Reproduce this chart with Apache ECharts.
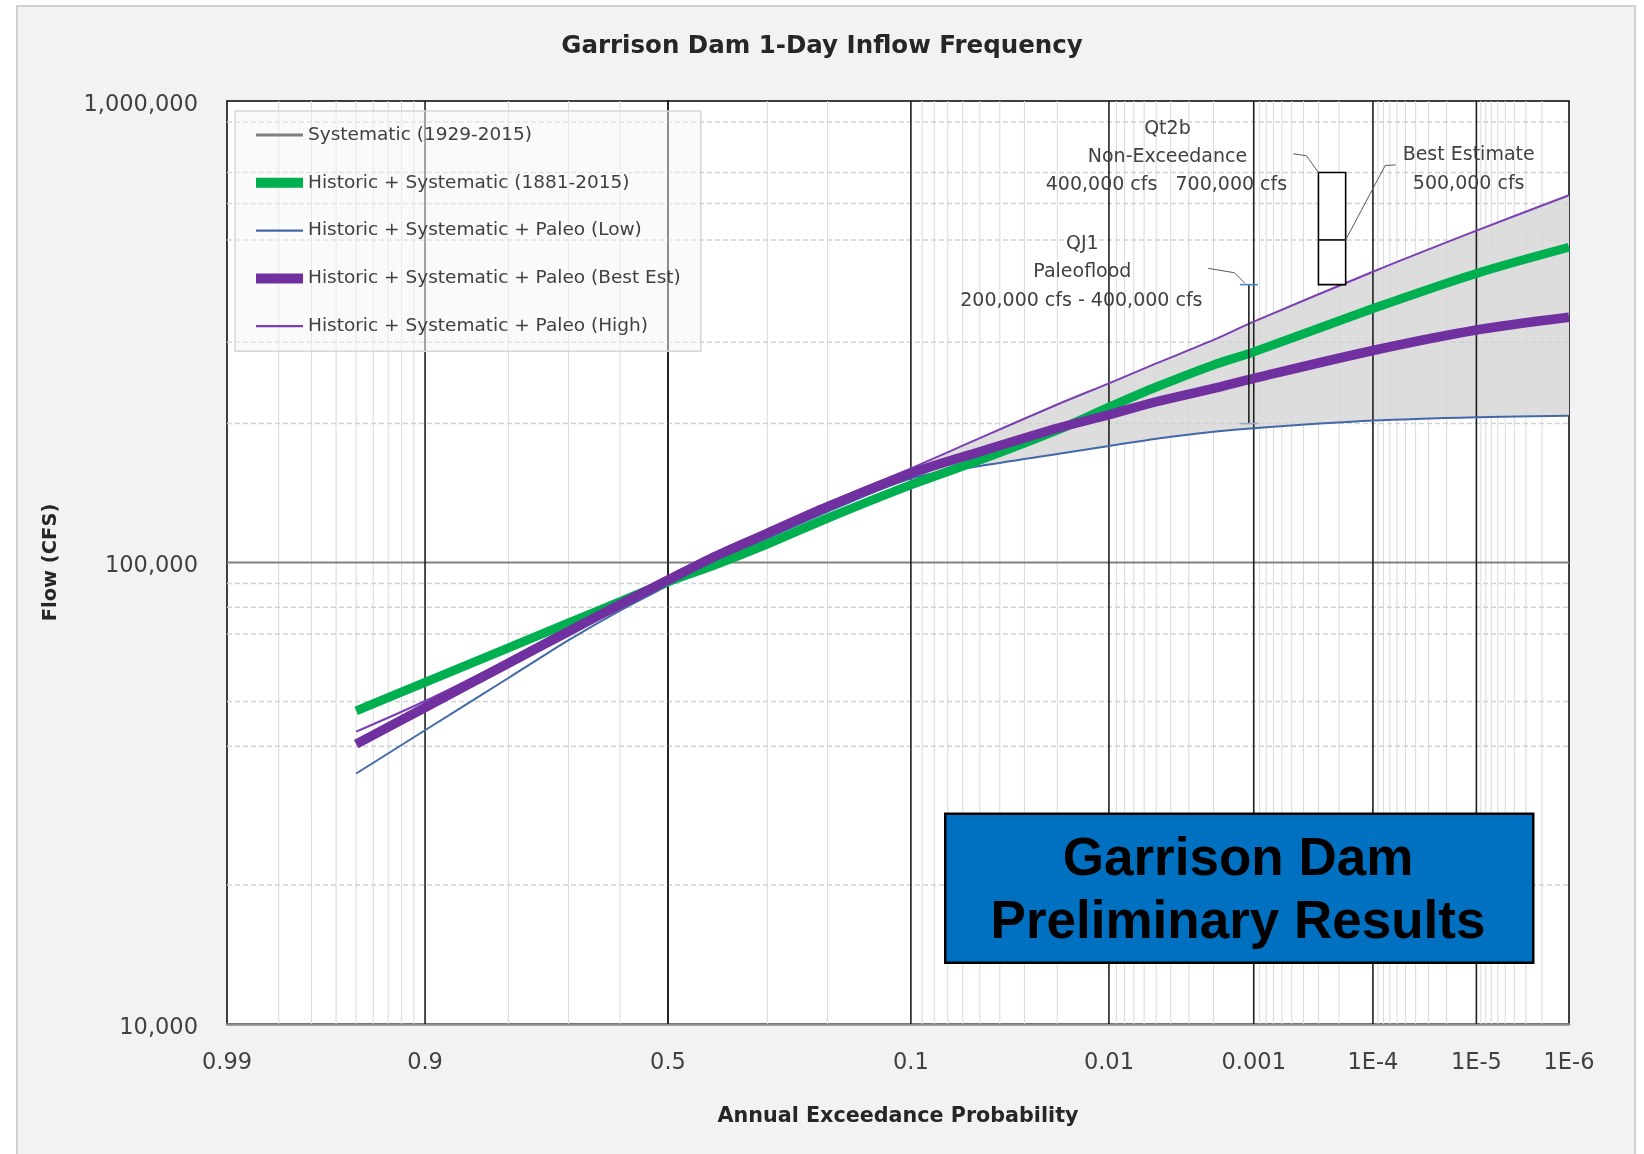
<!DOCTYPE html>
<html><head><meta charset="utf-8">
<script src="https://cdn.jsdelivr.net/npm/echarts@6/dist/echarts.min.js"></script>
<style>html,body{margin:0;padding:0;background:#fff}#c{width:1644px;height:1154px}</style>
</head><body><div id="c"></div>
<script>
// ---------------- data ----------------
const probabilities = [0.95,0.9,0.8,0.7,0.6,0.5,0.4,0.3,0.2,0.1,0.05,0.02,0.01,0.005,0.002,0.001,1e-4,1e-5,1e-6];
const historicSystematic = [47700,55000,65300,74000,82200,90800,99000,109600,124700,147300,166700,193600,217000,240000,268000,286000,355000,423000,482000];
const paleoBest = [40400,48500,60500,70900,81100,91600,103300,115700,132100,156000,173800,195400,209000,223000,238400,250600,288000,319000,340000];
const paleoLow  = [34900,43300,56200,67900,78700,89100,100700,112700,128800,152000,161800,171800,178800,185500,192000,195500,203000,206500,208000];
const paleoHigh = [43000,50100,61700,72400,82600,93300,105200,117800,134600,160000,186000,220000,244500,270000,303600,332600,426600,523600,625000];
const systematic = []; // shown in legend only (hidden under other curves)
const bandStartProbability = 0.1;

const seriesNames = ['Systematic (1929-2015)','Historic + Systematic (1881-2015)','Historic + Systematic + Paleo (Low)','Historic + Systematic + Paleo (Best Est)','Historic + Systematic + Paleo (High)'];

const xTickProbs  = [0.99,0.9,0.5,0.1,0.01,0.001,1e-4,1e-5,1e-6];
const xTickLabels = ['0.99','0.9','0.5','0.1','0.01','0.001','1E-4','1E-5','1E-6'];
const xMajorProbs = [0.9,0.5,0.1,0.01,0.001,1e-4,1e-5];
const yTickValues = [10000,100000,1000000];
const yTickLabels = ['10,000','100,000','1,000,000'];
const yDottedValues = [20000,40000,50000,70000,80000,90000,200000,300000,500000,600000,700000,900000];

// Qt2b non-exceedance box and QJ1 paleoflood range
const qt2b = {pLeft:3.0e-4, pRight:1.75e-4, low:400000, best:500000, high:700000};
const qj1 = {p:0.00109, low:200000, high:400000};

// ---------------- probability scale ----------------
function normInv(p){
  const a=[-3.969683028665376e+01,2.209460984245205e+02,-2.759285104469687e+02,1.383577518672690e+02,-3.066479806614716e+01,2.506628277459239e+00];
  const b=[-5.447609879822406e+01,1.615858368580409e+02,-1.556989798598866e+02,6.680131188771972e+01,-1.328068155288572e+01];
  const c=[-7.784894002430293e-03,-3.223964580411365e-01,-2.400758277161838e+00,-2.549732989456271e+00,4.374664141464968e+00,2.938163982698783e+00];
  const d=[7.784695709041462e-03,3.224671290700398e-01,2.445134137142996e+00,3.754408661907416e+00];
  const pl=0.02425, ph=1-pl; let q,r;
  if(p<pl){q=Math.sqrt(-2*Math.log(p));return (((((c[0]*q+c[1])*q+c[2])*q+c[3])*q+c[4])*q+c[5])/((((d[0]*q+d[1])*q+d[2])*q+d[3])*q+1);}
  if(p<=ph){q=p-0.5;r=q*q;return (((((a[0]*r+a[1])*r+a[2])*r+a[3])*r+a[4])*r+a[5])*q/(((((b[0]*r+b[1])*r+b[2])*r+b[3])*r+b[4])*r+1);}
  q=Math.sqrt(-2*Math.log(1-p));return -(((((c[0]*q+c[1])*q+c[2])*q+c[3])*q+c[4])*q+c[5])/((((d[0]*q+d[1])*q+d[2])*q+d[3])*q+1);
}
const toZ = p => -normInv(p);

// minor probability gridlines
const xMinorProbs = [];
for (let k=98;k>=91;k--) xMinorProbs.push(k/100);
[0.8,0.7,0.6,0.3,0.2].forEach(v=>xMinorProbs.push(v));
[1e-1,1e-2,1e-3,1e-4,1e-5].forEach(dec=>{ for(let k=9;k>=2;k--) xMinorProbs.push(k*dec/10); });

const pairs = vals => probabilities.map((p,i)=>[toZ(p), vals[i]]);
const bandIdx = probabilities.map((p,i)=>i).filter(i=>probabilities[i] <= bandStartProbability);

const FONT = 'DejaVu Sans';
const TXT = '#404040';

const chart = echarts.init(document.getElementById('c'), null, {renderer:'canvas'});

function gridRender(params, api){
  if (params.dataIndex !== 0) return;
  const cs = params.coordSys;
  const ch = [];
  xMinorProbs.forEach(p=>{
    const x = api.coord([toZ(p), 100000])[0];
    ch.push({type:'line', shape:{x1:x,y1:cs.y,x2:x,y2:cs.y+cs.height}, style:{stroke:'#dadada', lineWidth:1}});
  });
  yDottedValues.forEach(v=>{
    const y = api.coord([0, v])[1];
    ch.push({type:'line', shape:{x1:cs.x,y1:y,x2:cs.x+cs.width,y2:y}, style:{stroke:'#d2d2d2', lineWidth:1.5, lineDash:[5,3]}});
  });
  const y5 = api.coord([0, 100000])[1];
  ch.push({type:'line', shape:{x1:cs.x,y1:y5,x2:cs.x+cs.width,y2:y5}, style:{stroke:'#808080', lineWidth:1.8}});
  xMajorProbs.forEach(p=>{
    const x = api.coord([toZ(p), 100000])[0];
    ch.push({type:'line', shape:{x1:x,y1:cs.y,x2:x,y2:cs.y+cs.height}, style:{stroke:'#1f1f1f', lineWidth:1.6}});
  });
  return {type:'group', children:ch};
}

function bandRender(params, api){
  if (params.dataIndex !== 0) return;
  const pts = [];
  bandIdx.forEach(i=>pts.push(api.coord([toZ(probabilities[i]), paleoHigh[i]])));
  bandIdx.slice().reverse().forEach(i=>pts.push(api.coord([toZ(probabilities[i]), paleoLow[i]])));
  return {type:'polygon', shape:{points:pts}, style:{fill:'#dddddd'}};
}

function txt(text, x, y){
  return {type:'text', style:{text:text, x:x, y:y+2, textAlign:'center', textVerticalAlign:'middle', align:'center', verticalAlign:'middle', fontFamily:FONT, fontSize:19, fill:TXT}};
}

function annotRender(params, api){
  if (params.dataIndex !== 0) return;
  const tl = api.coord([toZ(qt2b.pLeft), qt2b.high]);
  const br = api.coord([toZ(qt2b.pRight), qt2b.low]);
  const my = api.coord([toZ(qt2b.pLeft), qt2b.best])[1];
  const top = api.coord([toZ(qj1.p), qj1.high]);
  const bot = api.coord([toZ(qj1.p), qj1.low]);
  const lead = {stroke:'#595959', lineWidth:1, fill:null};
  const ch = [
    // QJ1 range bar
    {type:'line', shape:{x1:top[0],y1:top[1],x2:bot[0],y2:bot[1]}, style:{stroke:'#202020', lineWidth:1.6}},
    {type:'line', shape:{x1:top[0]-9,y1:top[1],x2:top[0]+9,y2:top[1]}, style:{stroke:'#4f86c0', lineWidth:1.6}},
    {type:'line', shape:{x1:bot[0]-9,y1:bot[1],x2:bot[0]+9,y2:bot[1]}, style:{stroke:'#93a9c4', lineWidth:1.6}},
    {type:'polyline', shape:{points:[[top[0]-3.9,top[1]-1.3],[top[0]-14.4,top[1]-11.9],[top[0]-40.6,top[1]-16.3]]}, style:lead},
    txt('QJ1', top[0]-166.5, top[1]-42.9),
    txt('Paleoflood', top[0]-166.5, top[1]-14.6),
    txt('200,000 cfs - 400,000 cfs', top[0]-167.5, top[1]+14.4),
    // Qt2b box
    {type:'rect', shape:{x:tl[0],y:tl[1],width:br[0]-tl[0],height:br[1]-tl[1]}, style:{fill:'#ffffff', stroke:'#000', lineWidth:1.6}},
    {type:'line', shape:{x1:tl[0],y1:my,x2:br[0],y2:my}, style:{stroke:'#000', lineWidth:1.6}},
    {type:'polyline', shape:{points:[[tl[0],tl[1]],[tl[0]-12,tl[1]-16.7],[tl[0]-25,tl[1]-18.7]]}, style:lead},
    {type:'polyline', shape:{points:[[br[0],my],[br[0]+39.5,my-74.4],[br[0]+50,my-75]]}, style:lead},
    txt('Qt2b', tl[0]-151, tl[1]-45.7),
    txt('Non-Exceedance', tl[0]-151, tl[1]-17.5),
    txt('400,000 cfs   700,000 cfs', tl[0]-152, tl[1]+10.8),
    txt('Best Estimate', br[0]+123, my-86.5),
    txt('500,000 cfs', br[0]+123, my-58)
  ];
  return {type:'group', children:ch};
}

const zMin = toZ(0.99), zMax = toZ(1e-6);
const boxTextStyle = {textAlign:'center', textVerticalAlign:'middle', align:'center', verticalAlign:'middle', fontFamily:'Liberation Sans', fontWeight:'bold', fontSize:53, fill:'#000'};

const option = {
  backgroundColor:'#ffffff',
  animation:false,
  title:{
    text:'Garrison Dam 1-Day Inflow Frequency', left:'center', top:29, padding:[5,0,5,8],
    textStyle:{fontFamily:FONT, fontWeight:'bold', fontSize:24.5, color:'#262626'}
  },
  graphic:[
    {type:'rect', left:16, top:5, z:-10, shape:{width:1618, height:1160}, style:{fill:'#f2f2f2', stroke:'#d0d0d0', lineWidth:2}},
    {type:'rect', left:944, top:812.5, z:100, shape:{width:588, height:149}, style:{fill:'#0070c0', stroke:'#000', lineWidth:2.5}},
    {type:'text', z:101, style:Object.assign({text:'Garrison Dam', x:1238, y:860}, boxTextStyle)},
    {type:'text', z:101, style:Object.assign({text:'Preliminary Results', x:1238, y:923}, boxTextStyle)}
  ],
  legend:{
    orient:'vertical', left:235, top:111, selectedMode:false, symbolKeepAspect:true,
    padding:[14,20,15,21], itemGap:27.8, itemWidth:47, itemHeight:14,
    backgroundColor:'rgba(245,245,245,0.5)', borderColor:'#d6d6d6', borderWidth:1.5,
    textStyle:{fontFamily:FONT, fontSize:18.5, color:TXT, lineHeight:20},
    data:[
      {name:seriesNames[0], icon:'path://M0,0H47V3H0Z'},
      {name:seriesNames[1], icon:'path://M0,0H47V10H0Z'},
      {name:seriesNames[2], icon:'path://M0,0H47V2.2H0Z'},
      {name:seriesNames[3], icon:'path://M0,0H47V10H0Z'},
      {name:seriesNames[4], icon:'path://M0,0H47V2.2H0Z'}
    ]
  },
  grid:{left:227, top:101, width:1342, height:923, show:true, backgroundColor:'#ffffff', borderColor:'#000', borderWidth:1.5},
  xAxis:{
    type:'value', min:zMin, max:zMax,
    axisLine:{show:true, onZero:false, lineStyle:{color:'#8c8c8c', width:2.5}},
    axisTick:{show:false}, splitLine:{show:false},
    axisLabel:{
      customValues:xTickProbs.map(toZ), margin:28, fontFamily:FONT, fontSize:22.5, color:TXT,
      formatter:v=>{ for(let i=0;i<xTickProbs.length;i++){ if(Math.abs(toZ(xTickProbs[i])-v)<1e-6) return xTickLabels[i]; } return ''; }
    },
    name:'Annual Exceedance Probability', nameLocation:'middle', nameGap:82,
    nameTextStyle:{fontFamily:FONT, fontWeight:'bold', fontSize:20.7, color:'#262626'}
  },
  yAxis:{
    type:'log', logBase:10, min:10000, max:1000000,
    axisLine:{show:true, lineStyle:{color:'#000', width:1.5}},
    axisTick:{show:false}, splitLine:{show:false}, minorSplitLine:{show:false},
    axisLabel:{
      customValues:yTickValues, margin:29, fontFamily:FONT, fontSize:22.5, color:TXT,
      formatter:v=>{ const i=yTickValues.findIndex(t=>Math.abs(t-v)/t<1e-6); return i>=0?('{a|'+yTickLabels[i]+'}'):''; },
      rich:{a:{fontFamily:FONT, fontSize:22.5, color:TXT, padding:[8,0,0,0]}}
    },
    name:'Flow (CFS)', nameLocation:'middle', nameGap:166,
    nameTextStyle:{fontFamily:FONT, fontWeight:'bold', fontSize:19.5, color:'#262626'}
  },
  series:[
    {type:'custom', name:'band', z:1, silent:true, data:[[0,100000]], encode:{x:0,y:1}, renderItem:bandRender},
    {type:'custom', name:'grid', z:1.5, silent:true, data:[[0,100000]], encode:{x:0,y:1}, renderItem:gridRender},
    {type:'line', name:seriesNames[0], z:2, data:systematic, symbol:'none', color:'#808080', lineStyle:{width:3, color:'#808080'}},
    {type:'line', name:seriesNames[2], z:2, data:pairs(paleoLow), symbol:'none', smooth:0.3, color:'#4169a8', lineStyle:{width:2, color:'#4169a8'}},
    {type:'line', name:seriesNames[4], z:2, data:pairs(paleoHigh), symbol:'none', smooth:0.3, color:'#7b3fb4', lineStyle:{width:2, color:'#7b3fb4'}},
    {type:'line', name:seriesNames[1], z:2, data:pairs(historicSystematic), symbol:'none', smooth:0.3, color:'#00b050', lineStyle:{width:9, color:'#00b050'}},
    {type:'line', name:seriesNames[3], z:2, data:pairs(paleoBest), symbol:'none', smooth:0.3, color:'#7030a0', lineStyle:{width:9.5, color:'#7030a0'}},
    {type:'custom', name:'annotations', z:3, silent:true, data:[[0,100000]], encode:{x:0,y:1}, renderItem:annotRender}
  ]
};
chart.setOption(option);
</script>
</body></html>
